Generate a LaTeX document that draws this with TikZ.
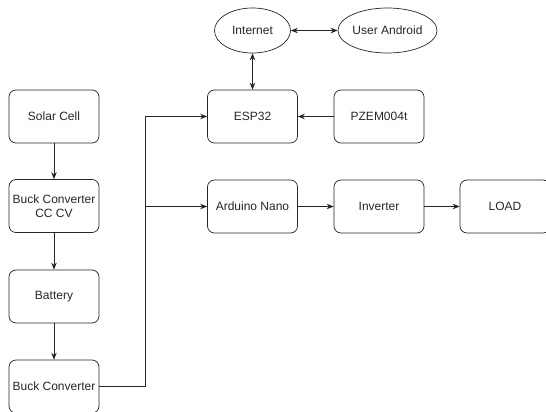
\documentclass[tikz,border=0pt]{standalone}
\usepackage{fontspec}
\setmainfont{Liberation Sans}
\usetikzlibrary{arrows.meta,shapes.geometric}
\begin{document}
\begin{tikzpicture}[x=1pt,y=-1pt,
  box/.style={draw=black!85, rounded corners=7pt, minimum width=90pt, minimum height=53pt, inner sep=0pt, align=center, font=\fontsize{12}{14}\selectfont, text=black!85, line width=0.7pt},
  ell/.style={draw=black!85, ellipse, inner sep=0pt, font=\fontsize{12}{14}\selectfont, text=black!85, line width=0.7pt},
  arr/.style={-{Stealth[length=7pt,width=5.5pt]}, line width=0.7pt, draw=black!85},
  darr/.style={{Stealth[length=7pt,width=5.5pt]}-{Stealth[length=7pt,width=5.5pt]}, line width=0.7pt, draw=black!85}]
\useasboundingbox (0,0) rectangle (546,412);
\node[box] (solar) at (54,116.5) {Solar Cell};
\node[box] (buck1) at (54,206) {Buck Converter\\CC CV};
\node[box] (batt) at (54,296.5) {Battery};
\node[box] (buck2) at (54,386.5) {Buck Converter};
\node[box] (esp) at (252.5,116.5) {ESP32};
\node[box] (pzem) at (379,116.5) {PZEM004t};
\node[box] (ard) at (252.5,206.5) {Arduino Nano};
\node[box] (inv) at (379,206.5) {Inverter};
\node[box] (load) at (505,206.5) {LOAD};
\node[ell, minimum width=76pt, minimum height=45pt] (int) at (252.5,30.5) {Internet};
\node[ell, minimum width=91pt, minimum height=45pt] (andr) at (387.5,30.5) {User Android};
\coordinate (jb) at (145,386.5);
\draw[arr] (solar) -- (buck1);
\draw[arr] (buck1) -- (batt);
\draw[arr] (batt) -- (buck2);
\draw[arr] (buck2.east) -- (jb) |- (esp.west);
\draw[arr] (jb) |- (ard.west);
\draw[arr] (pzem) -- (esp);
\draw[arr] (ard) -- (inv);
\draw[arr] (inv) -- (load);
\draw[darr] (esp) -- (int);
\draw[darr] (int) -- (andr);
\end{tikzpicture}
\end{document}
